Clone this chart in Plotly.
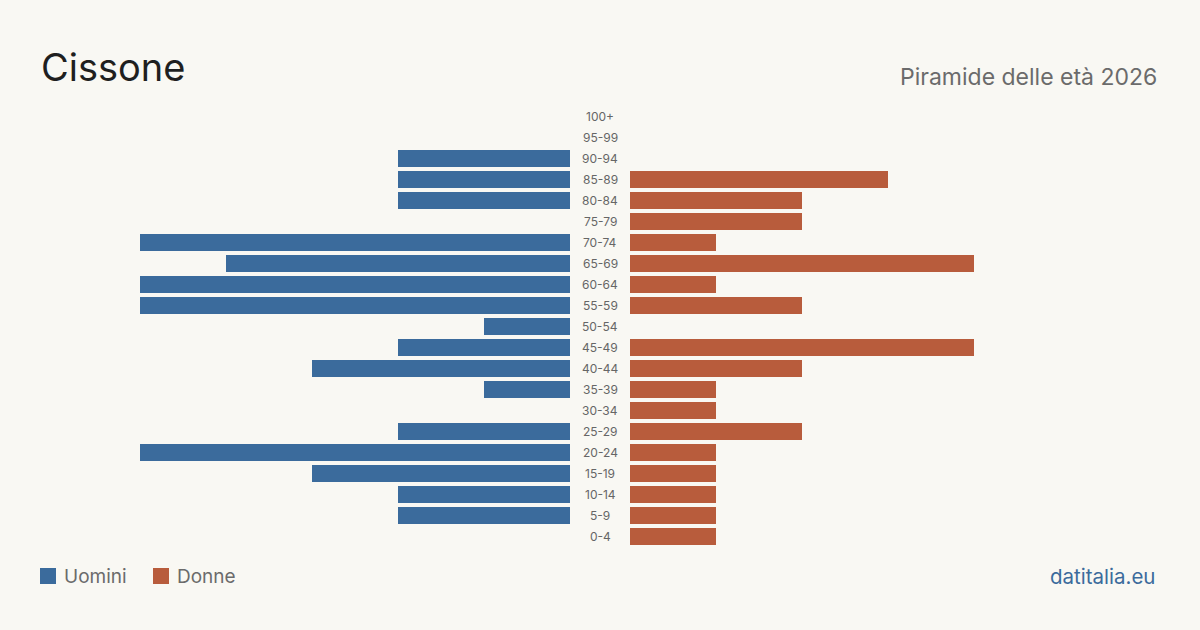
import plotly.graph_objects as go

age_groups = ["0-4", "5-9", "10-14", "15-19", "20-24", "25-29", "30-34", "35-39",
              "40-44", "45-49", "50-54", "55-59", "60-64", "65-69", "70-74",
              "75-79", "80-84", "85-89", "90-94", "95-99", "100+"]
men = [0, 2, 2, 3, 5, 2, 0, 1, 3, 2, 1, 5, 5, 4, 5, 0, 2, 2, 2, 0, 0]
women = [1, 1, 1, 1, 1, 2, 1, 1, 2, 4, 0, 2, 1, 4, 1, 2, 2, 3, 0, 0, 0]

title = "Cissone"
subtitle = "Piramide delle età 2026"
source = "datitalia.eu"
legend_labels = ["Uomini", "Donne"]

BLUE = "#3b6b9c"
RED = "#b85c3c"
BG = "#f9f8f3"
FONT = "Inter"

W, H = 1200, 630
xmax = 5

fig = go.Figure()
fig.add_trace(go.Bar(y=age_groups, x=men, orientation="h", marker_color=BLUE,
                     marker_line_width=0,
                     xaxis="x", yaxis="y", name=legend_labels[0], hoverinfo="x+y"))
fig.add_trace(go.Bar(y=age_groups, x=women, orientation="h", marker_color=RED,
                     marker_line_width=0,
                     xaxis="x2", yaxis="y", name=legend_labels[1], hoverinfo="x+y"))

for a in age_groups:
    fig.add_annotation(x=600 / W, xref="paper", y=a, yref="y", text=a,
                       showarrow=False, xanchor="center", yanchor="middle",
                       font=dict(family=FONT, size=12, color="#666666"))

fig.add_annotation(x=39 / W, y=1 - 67 / H, xref="paper", yref="paper", text=title,
                   showarrow=False, xanchor="left", yanchor="middle",
                   font=dict(family=FONT, size=38, color="#1f1f1f"))
fig.add_annotation(x=1159 / W, y=1 - 77 / H, xref="paper", yref="paper", text=subtitle,
                   showarrow=False, xanchor="right", yanchor="middle",
                   font=dict(family=FONT, size=23, color="#6b6b6b"))
fig.add_annotation(x=1157 / W, y=1 - 576 / H, xref="paper", yref="paper", text=source,
                   showarrow=False, xanchor="right", yanchor="middle",
                   font=dict(family=FONT, size=20.5, color=BLUE))

# legend
for lab, col, x0 in zip(legend_labels, [BLUE, RED], [40, 153]):
    fig.add_shape(type="rect", xref="paper", yref="paper",
                  x0=x0 / W, x1=(x0 + 16) / W, y0=1 - 584 / H, y1=1 - 568 / H,
                  fillcolor=col, line_width=0)
    fig.add_annotation(x=(x0 + 22) / W, y=1 - 576 / H, xref="paper", yref="paper",
                       text=lab, showarrow=False, xanchor="left", yanchor="middle",
                       font=dict(family=FONT, size=19, color="#6b6b6b"))

top = 106
bottom = 547
fig.update_layout(
    width=W, height=H,
    paper_bgcolor=BG, plot_bgcolor=BG,
    margin=dict(l=0, r=0, t=0, b=0, pad=0),
    showlegend=False,
    bargap=4 / 21,
    xaxis=dict(domain=[140 / W, 570 / W], range=[xmax, 0], visible=False, fixedrange=True),
    xaxis2=dict(domain=[630 / W, 1060 / W], range=[0, xmax], visible=False, fixedrange=True),
    yaxis=dict(categoryorder="array", categoryarray=age_groups, visible=False,
               domain=[1 - bottom / H, 1 - top / H],
               range=[-0.5, len(age_groups) - 0.5], fixedrange=True),
    font=dict(family=FONT),
)

fig.write_html("out.html")
